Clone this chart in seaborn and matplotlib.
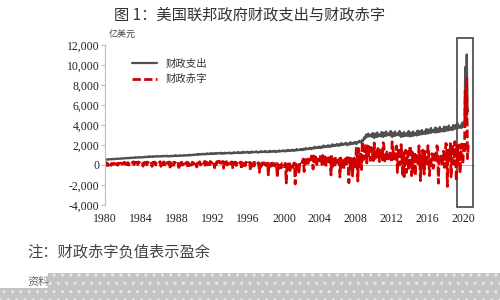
import numpy as np
import pandas as pd
import seaborn as sns
import matplotlib
matplotlib.use("Agg")
from matplotlib import pyplot as plt
from matplotlib.patches import Rectangle
from matplotlib.lines import Line2D
from matplotlib.ticker import FuncFormatter

# monthly federal outlays (亿美元), one row per year, Jan..Dec
spend_1980s = [
    540, 520, 560, 555, 540, 590, 560, 575, 560, 600, 570, 610,
    600, 580, 620, 610, 600, 650, 615, 630, 620, 660, 630, 670,
    655, 640, 680, 670, 660, 715, 680, 690, 675, 720, 690, 735,
    720, 700, 745, 735, 720, 780, 740, 755, 740, 785, 750, 790,
    760, 745, 790, 775, 765, 830, 780, 800, 785, 830, 800, 880,
    820, 800, 845, 830, 815, 880, 835, 855, 840, 885, 850, 900,
    860, 835, 880, 865, 850, 920, 870, 890, 875, 915, 880, 930,
    870, 850, 895, 880, 865, 935, 885, 900, 890, 930, 895, 990,
    910, 890, 935, 920, 905, 975, 925, 945, 930, 970, 935, 985,
    960, 935, 985, 970, 950, 1030, 970, 995, 975, 1020, 985, 1040,
]
spend_1990s = [
    1030, 1000, 1060, 1050, 1020, 1110, 1040, 1070, 1050, 1100, 1060, 1120,
    1080, 1050, 1120, 1100, 1070, 1170, 1090, 1120, 1100, 1150, 1110, 1180,
    1130, 1090, 1170, 1150, 1120, 1220, 1140, 1170, 1150, 1200, 1160, 1230,
    1150, 1110, 1190, 1170, 1140, 1240, 1160, 1190, 1170, 1220, 1180, 1250,
    1180, 1140, 1220, 1200, 1170, 1280, 1190, 1220, 1200, 1250, 1210, 1290,
    1220, 1170, 1260, 1240, 1210, 1320, 1230, 1260, 1240, 1290, 1250, 1330,
    1250, 1200, 1290, 1270, 1240, 1350, 1260, 1290, 1270, 1320, 1280, 1360,
    1280, 1230, 1320, 1300, 1270, 1390, 1290, 1320, 1300, 1350, 1310, 1400,
    1310, 1260, 1350, 1330, 1300, 1420, 1320, 1350, 1330, 1390, 1340, 1430,
    1340, 1290, 1390, 1360, 1330, 1460, 1350, 1390, 1370, 1420, 1380, 1470,
]
spend_2000s = [
    1400, 1340, 1450, 1420, 1380, 1520, 1410, 1450, 1420, 1480, 1430, 1530,
    1460, 1400, 1520, 1480, 1440, 1600, 1470, 1510, 1490, 1550, 1500, 1600,
    1560, 1480, 1620, 1580, 1530, 1700, 1570, 1610, 1590, 1660, 1600, 1720,
    1660, 1580, 1730, 1690, 1640, 1830, 1680, 1730, 1700, 1780, 1710, 1850,
    1760, 1680, 1840, 1790, 1740, 1950, 1780, 1840, 1800, 1890, 1820, 1970,
    1880, 1790, 1960, 1900, 1850, 2080, 1890, 1960, 1920, 2020, 1940, 2100,
    2000, 1900, 2080, 2020, 1960, 2200, 2010, 2080, 2040, 2140, 2060, 2220,
    2080, 1970, 2160, 2100, 2040, 2290, 2090, 2160, 2120, 2230, 2140, 2300,
    2200, 2080, 2300, 2230, 2350, 2420, 2250, 2330, 2280, 2520, 2400, 2600,
    2800, 2650, 3050, 2800, 2900, 3150, 2850, 2950, 2900, 3050, 2800, 3200,
]
spend_2010s = [
    2850, 2700, 3150, 2900, 2800, 3250, 2850, 3000, 2900, 3100, 2850, 3300,
    2950, 2800, 3250, 3000, 2900, 3350, 2950, 3100, 3000, 3200, 2950, 3400,
    2950, 2800, 3250, 3000, 2900, 3350, 2950, 3100, 3000, 3200, 2950, 3400,
    2950, 2800, 3200, 2950, 2850, 3300, 2900, 3100, 2950, 3200, 2900, 3400,
    3000, 2850, 3250, 3000, 2900, 3350, 2950, 3150, 3000, 3250, 2950, 3450,
    3150, 3000, 3400, 3150, 3050, 3500, 3100, 3300, 3150, 3400, 3100, 3600,
    3300, 3150, 3550, 3300, 3200, 3700, 3250, 3450, 3300, 3550, 3250, 3750,
    3400, 3250, 3650, 3400, 3300, 3800, 3350, 3550, 3400, 3650, 3350, 3850,
    3550, 3400, 3800, 3550, 3450, 3950, 3500, 3700, 3550, 3800, 3500, 4000,
    3750, 3600, 4000, 3750, 3650, 4150, 3700, 3900, 3750, 4000, 3700, 4250,
]
spend_2020 = [4050, 3850, 4000, 9800, 6800, 11050, 5600, 5400]

# monthly deficit (亿美元), negative = surplus
deficit_1980s = [
    80, 150, 220, -50, 120, -20, 140, 160, -40, 170, 150, 60,
    100, 170, 240, -80, 140, -30, 160, 180, -60, 190, 170, 80,
    150, 210, 280, -60, 190, 30, 220, 230, 0, 260, 240, 150,
    200, 260, 320, 30, 250, 60, 260, 280, 40, 300, 270, 180,
    170, 240, 300, -120, 230, 20, 240, 260, 10, 290, 250, 150,
    190, 260, 320, -140, 250, 10, 260, 290, 0, 310, 270, 170,
    200, 270, 330, -130, 260, 20, 270, 300, 10, 320, 280, 180,
    160, 230, 300, -380, 220, -40, 230, 260, -30, 280, 240, 120,
    170, 240, 300, -250, 230, -20, 240, 270, -10, 290, 250, 140,
    150, 220, 290, -330, 210, -40, 230, 250, -20, 280, 230, 110,
]
deficit_1990s = [
    150, 300, 330, -200, 260, 20, 280, 320, 0, 330, 300, 160,
    170, 320, 350, -250, 290, 40, 300, 330, 10, 350, 310, 180,
    200, 340, 380, -280, 310, 30, 330, 350, 20, 370, 330, 200,
    170, 320, 350, -320, 290, 0, 300, 330, -10, 350, 310, 170,
    120, 270, 310, -380, 240, -40, 250, 290, -50, 300, 260, 120,
    100, 250, 290, -420, 220, -80, 230, 270, -60, 280, 240, 100,
    60, 220, 260, -560, 190, -120, 200, 240, -100, 250, 210, 60,
    20, 180, 230, -740, 150, -200, 160, 210, -150, 210, 180, 20,
    -60, 140, 190, -990, 100, -280, 120, 170, -250, 170, 140, -30,
    -100, 120, 170, -1250, 80, -350, 90, 140, -300, 150, 110, -80,
]
deficit_2000s = [
    -180, 100, 160, -1800, 60, -420, 100, 120, -550, 100, 80, -100,
    -250, 150, 200, -1900, 90, -300, 200, 150, -900, 250, 190, 80,
    200, 450, 600, -650, 500, 100, 550, 500, -100, 600, 550, 400,
    300, 900, 800, -400, 900, 300, 800, 750, 50, 800, 750, 500,
    400, 1000, 1000, -100, 950, 150, 900, 800, -200, 900, 800, 400,
    300, 900, 800, -1000, 850, -150, 800, 700, -250, 850, 700, 200,
    200, 800, 700, -1200, 700, -200, 700, 600, -500, 750, 650, 100,
    100, 750, 500, -1780, 700, -300, 650, 500, -1100, 550, 700, 100,
    -200, 1800, 1000, -1600, 1650, -200, 1000, 1100, -450, 2350, 1450, 550,
    850, 1940, 1920, 200, 1900, 940, 1810, 1110, 460, 1760, 1200, 920,
]
deficit_2010s = [
    430, 2210, 650, 830, 1360, 680, 1650, 900, 340, 1400, 1500, 800,
    500, 2230, 1890, 400, 580, 430, 1300, 1110, 620, 980, 1370, 860,
    270, 2320, 1980, 590, 1250, 600, 700, 1910, -750, 1200, 1720, 10,
    30, 2040, 1070, -1130, 1390, -1170, 980, 1480, -750, 910, 1350, -530,
    100, 1930, 370, -1070, 1300, -710, 950, 1280, -1060, 1220, 570, -20,
    180, 1920, 530, -1570, 820, -520, 1490, 640, -910, 1360, 650, -140,
    550, 1930, 1080, -1060, 530, -60, 1130, 1070, -330, 450, 1370, 270,
    510, 1920, 1760, -1820, 880, 900, 430, 1080, -80, 630, 1390, -230,
    490, 2150, 2080, -2140, 1470, 750, 770, 2140, -1190, 1000, 2050, 140,
    90, 2340, 1470, -1600, 2080, 80, 1200, 2000, -830, 1340, 2090, 130,
]
deficit_2020 = [330, 2350, 1190, 7380, 4240, 8640, 630, 2000]

year_ticks = [1980, 1984, 1988, 1992, 1996, 2000, 2004, 2008, 2012, 2016, 2020]
y_ticks = [-4000, -2000, 0, 2000, 4000, 6000, 8000, 10000, 12000]

spend = spend_1980s + spend_1990s + spend_2000s + spend_2010s + spend_2020
deficit = deficit_1980s + deficit_1990s + deficit_2000s + deficit_2010s + deficit_2020
df = pd.DataFrame({'t': 1980 + np.arange(len(spend)) / 12.0,
                   'spend': spend, 'deficit': deficit})

sns.set_style('white')
plt.rcParams['font.family'] = ['Liberation Serif', 'Noto Sans CJK SC']
cjk = ['Noto Sans CJK SC', 'DejaVu Sans']

fig = plt.figure(figsize=(5, 3), dpi=100)
ax = fig.add_axes([0.21, 0.3167, 0.74, 0.5333])

ax.axhline(0, color='#b0b0b0', lw=0.6, zorder=0)
sns.lineplot(data=df, x='t', y='spend', ax=ax, color='#505050', lw=1.6)
sns.lineplot(data=df, x='t', y='deficit', ax=ax, color='#d10000', lw=2.0,
             dashes=False)
ax.lines[-1].set_dashes((3, 1.2))

ax.set_xlim(1980, 2021.34)
ax.set_ylim(-4000, 12000)
ax.set_xticks(year_ticks)
ax.set_yticks(y_ticks)
ax.yaxis.set_major_formatter(FuncFormatter(lambda v, p: f'{int(v):,}'))
ax.set_xlabel('')
ax.set_ylabel('')
for s in ['top', 'right', 'bottom']:
    ax.spines[s].set_visible(False)
ax.spines['left'].set_color('#bdbdbd')
ax.tick_params(axis='y', length=3, color='#bdbdbd', labelsize=8.5, pad=1,
               labelcolor='#222222', left=True)
ax.tick_params(axis='x', length=0, labelsize=8.5, pad=6, labelcolor='#222222')

# highlight box around 2020
ax.add_patch(Rectangle((2019.33, -4200), 1.79, 16900, fill=False,
                       edgecolor='#444444', lw=1.2, clip_on=False))

handles = [Line2D([], [], color='#505050', lw=1.6),
           Line2D([], [], color='#d10000', lw=2.0, dashes=(3, 1.2))]
fig.legend(handles, ['财政支出', '财政赤字'], loc='upper left',
           bbox_to_anchor=(0.245, 0.835), frameon=False, handlelength=2.4,
           prop={'family': cjk, 'size': 7.5}, labelcolor='#333333',
           labelspacing=0.5)

fig.text(0.5, 0.95, '图 1：美国联邦政府财政支出与财政赤字', ha='center', va='center',
         fontsize=11, color='#333333', family=cjk)
fig.text(0.218, 0.885, '亿美元', ha='left', va='center', fontsize=6.5,
         color='#444444', family=cjk, style='italic')
fig.text(0.054, 0.16, '注：财政赤字负值表示盈余', ha='left', va='center',
         fontsize=11, color='#444444', family=cjk)
fig.text(0.054, 0.06, '资料', ha='left', va='center', fontsize=8,
         color='#666666', family=cjk)

fig.patches.append(Rectangle((0.096, 0.04), 0.904, 0.05, transform=fig.transFigure,
                             facecolor='#c4c4c4', edgecolor='#e8e8e8', hatch='..', lw=0))
fig.patches.append(Rectangle((0.0, 0.0), 1.0, 0.04, transform=fig.transFigure,
                             facecolor='#c4c4c4', edgecolor='#e8e8e8', hatch='..', lw=0))

fig.savefig('out.png', dpi=100)
